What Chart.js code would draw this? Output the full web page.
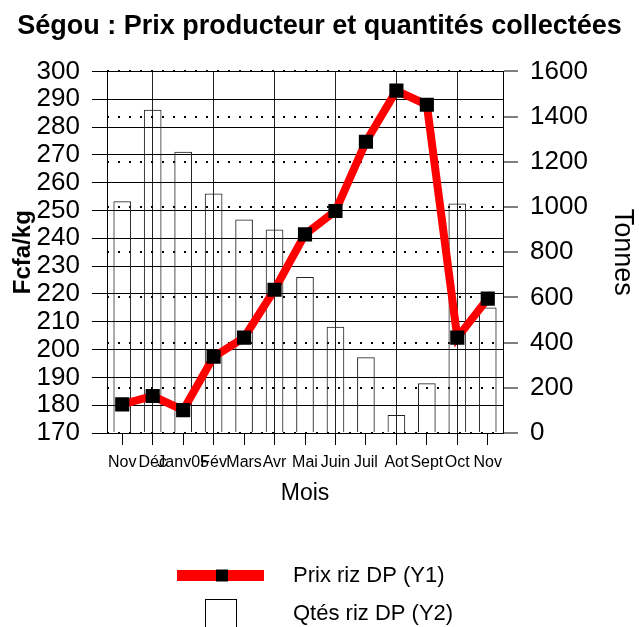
<!DOCTYPE html>
<html>
<head>
<meta charset="utf-8">
<script src="https://cdn.jsdelivr.net/npm/chart.js@4.4.0/dist/chart.umd.min.js"></script>
<style>body{margin:0;background:#fff}</style>
</head>
<body>
<canvas id="chart" width="639" height="627"></canvas>
<script>
// Mois (Nov 2004 -> Nov 2005)
var months = ['Nov', 'Déc', 'Janv05', 'Fév', 'Mars', 'Avr', 'Mai', 'Juin', 'Juil', 'Aot', 'Sept', 'Oct', 'Nov'];
// Prix riz DP, Fcfa/kg (Y1)
var prixRiz = [180.3, 183.3, 178.2, 197.4, 204.3, 221.5, 241.4, 249.8, 274.7, 293.1, 288, 204.3, 218.3];
// Qtés riz DP, tonnes (Y2)
var qtesRiz = [1025, 1430, 1245, 1060, 945, 900, 690, 470, 335, 80, 220, 1015, 555];
// axes
var prixMin = 170, prixMax = 300, prixStep = 10;
var qtesMin = 0, qtesMax = 1600, qtesStep = 200;

Chart.defaults.font.family = '"Liberation Sans", Arial, sans-serif';
Chart.defaults.color = '#000';

// legend drawn as in the original: one item per row under the chart
var stackedLegend = {
    id: 'stackedLegend',
    afterDraw: function (chart) {
        var ctx = chart.ctx;
        var line = chart.data.datasets[0];
        var bars = chart.data.datasets[1];
        ctx.save();
        ctx.fillStyle = line.borderColor;
        ctx.fillRect(177, 570, 87, 11);
        ctx.fillStyle = line.pointBackgroundColor;
        ctx.fillRect(216, 569.5, 12, 12);
        ctx.fillStyle = '#fff';
        ctx.strokeStyle = '#000';
        ctx.lineWidth = 1;
        ctx.fillRect(205.5, 599.5, 31, 40);
        ctx.strokeRect(205.5, 599.5, 31, 40);
        ctx.fillStyle = '#000';
        ctx.font = '22px "Liberation Sans", Arial, sans-serif';
        ctx.textBaseline = 'middle';
        ctx.fillText(line.label, 293, 576);
        ctx.fillText(bars.label, 293, 614);
        ctx.restore();
    }
};

var ctx = document.getElementById('chart').getContext('2d');
var myChart = new Chart(ctx, {
    type: 'bar',
    data: {
        labels: months,
        datasets: [{
            type: 'line',
            label: 'Prix riz DP (Y1)',
            data: prixRiz,
            yAxisID: 'y',
            borderColor: '#ff0000',
            borderWidth: 8,
            pointStyle: 'rect',
            pointRadius: 10,
            pointBackgroundColor: '#000',
            pointBorderColor: '#000',
            pointBorderWidth: 0,
            tension: 0,
            fill: false,
            order: 0
        }, {
            type: 'bar',
            label: 'Qtés riz DP (Y2)',
            data: qtesRiz,
            yAxisID: 'y2',
            backgroundColor: 'rgba(255,255,255,0)',
            borderColor: '#222',
            borderWidth: 1,
            barPercentage: 0.58,
            categoryPercentage: 1,
            order: 1
        }]
    },
    options: {
        responsive: false,
        animation: false,
        layout: { padding: { bottom: 100 } },
        plugins: {
            legend: { display: false },
            tooltip: { enabled: false },
            title: {
                display: true,
                text: 'Ségou : Prix producteur et quantités collectées',
                font: { size: 27, weight: 'bold' },
                color: '#000',
                padding: { top: 10, bottom: 29 }
            }
        },
        scales: {
            x: {
                offset: true,
                grid: {
                    offset: false,
                    color: function (c) { return c.index % 2 === 1 ? '#222' : 'rgba(0,0,0,0)'; },
                    tickColor: '#000',
                    tickLength: 12
                },
                border: { color: '#000' },
                ticks: { autoSkip: false, maxRotation: 0, minRotation: 0, font: { size: 16 }, padding: 8 },
                title: { display: true, text: 'Mois', font: { size: 23 }, padding: { top: 4, bottom: 20 } },
                afterFit: function (s) { s.height = 94; }
            },
            y: {
                position: 'left',
                min: prixMin,
                max: prixMax,
                ticks: { stepSize: prixStep, autoSkip: false, font: { size: 26 }, padding: 12 },
                grid: { color: '#000', tickLength: 15 },
                border: { color: '#000' },
                title: { display: true, text: 'Fcfa/kg', font: { size: 24, weight: 'bold' }, padding: { top: 9 } },
                afterFit: function (s) { s.width = 107; }
            },
            y2: {
                position: 'right',
                min: qtesMin,
                max: qtesMax,
                ticks: {
                    stepSize: qtesStep,
                    autoSkip: false,
                    font: { size: 26 },
                    padding: 12,
                    callback: function (v) { return String(v); }
                },
                grid: { color: '#000', lineWidth: 2, tickWidth: 1, tickColor: '#000', tickLength: 15 },
                border: { color: '#000', dash: [2, 9] },
                title: { display: true, text: 'Tonnes', font: { size: 27 }, padding: { top: 0 } },
                afterFit: function (s) { s.width = 136; }
            }
        }
    },
    plugins: [stackedLegend]
});
</script>
</body>
</html>
